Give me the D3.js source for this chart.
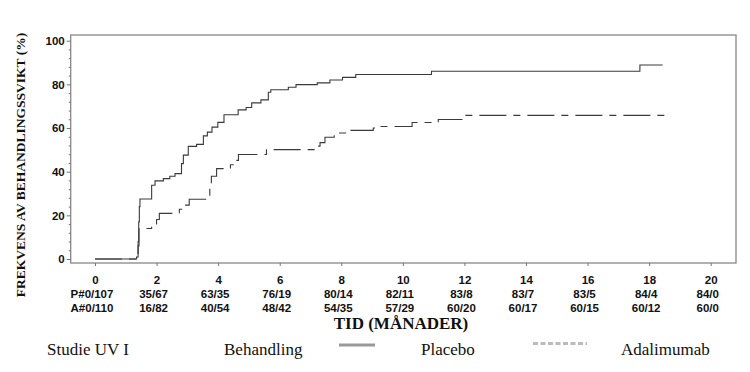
<!DOCTYPE html>
<html>
<head>
<meta charset="utf-8">
<script src="https://cdn.jsdelivr.net/npm/d3@7"></script>
<style>
  body { margin: 0; background: #fff; }
  svg { display: block; }
  .tick text { font-family: "Liberation Sans", Arial, sans-serif; font-weight: bold; font-size: 11.5px; fill: #111; }
  .tick line { stroke: #777; }
  .risk { font-family: "Liberation Sans", Arial, sans-serif; font-weight: bold; font-size: 11.5px; fill: #111; }
  .serif { font-family: "Liberation Serif", "Times New Roman", serif; fill: #111; }
</style>
</head>
<body>
<svg width="750" height="372"></svg>
<script>
// Placebo: time (months) and cumulative incidence (%)
const placeboTime  = [0, 1.35, 1.40, 1.42, 1.44, 1.46, 1.84, 1.95, 2.22, 2.43, 2.60, 2.81, 2.87, 3.03, 3.30, 3.52, 3.65, 3.80, 3.99, 4.19, 4.65, 4.91, 5.09, 5.39, 5.63, 5.71, 6.28, 6.53, 7.22, 7.63, 8.04, 8.47, 10.93, 17.70, 18.44];
const placeboValue = [0, 0.9, 8, 17, 24, 27.5, 33.8, 35.8, 36.8, 37.9, 39.1, 43.7, 47.6, 51.6, 52.5, 56.4, 58.1, 60.4, 62.6, 66.1, 68.3, 69.4, 71.5, 72.9, 76.4, 77.5, 78.7, 79.9, 80.7, 82.0, 83.2, 84.5, 86.0, 88.9, 88.9];

// Adalimumab
const adaTime  = [0, 1.40, 1.43, 1.84, 2.00, 2.09, 2.74, 2.87, 3.06, 3.73, 3.78, 3.95, 4.40, 4.52, 4.66, 5.57, 7.22, 7.31, 7.47, 7.77, 8.14, 9.04, 9.25, 10.30, 11.15, 12.03, 18.70];
const adaValue = [0, 6, 14.0, 15.5, 18.1, 20.9, 22.8, 24.7, 27.4, 33.8, 37.9, 41.4, 43.2, 45.2, 47.9, 50.1, 51.7, 53.3, 55.8, 57.7, 58.9, 60.0, 60.7, 62.5, 63.9, 65.8, 65.8];

const xTicks = [0, 2, 4, 6, 8, 10, 12, 14, 16, 18, 20];
const yTicks = [0, 20, 40, 60, 80, 100];
const riskPlacebo = ["P#0/107", "35/67", "63/35", "76/19", "80/14", "82/11", "83/8", "83/7", "83/5", "84/4", "84/0"];
const riskAda     = ["A#0/110", "16/82", "40/54", "48/42", "54/35", "57/29", "60/20", "60/17", "60/15", "60/12", "60/0"];

const svg = d3.select("svg");
svg.append("rect").attr("width", 750).attr("height", 372).attr("fill", "#fff");

const x = d3.scaleLinear().domain([0, 20]).range([95, 710.7]);
const y = d3.scaleLinear().domain([0, 100]).range([259, 40.7]);
const frame = {left: 70.7, right: 736, top: 35, bottom: 263};

// frame
svg.append("rect")
    .attr("x", frame.left).attr("y", frame.top)
    .attr("width", frame.right - frame.left).attr("height", frame.bottom - frame.top)
    .attr("fill", "none").attr("stroke", "#888").attr("stroke-width", 1.3);

// y axis, major + minor ticks
const yAxis = svg.append("g").attr("transform", `translate(${frame.left},0)`)
    .call(d3.axisLeft(y).tickValues(yTicks).tickSize(4).tickPadding(2));
yAxis.select(".domain").remove();

const minor = d3.range(0, 101, 4).filter(v => v % 20 !== 0);
const yMinor = svg.append("g").attr("transform", `translate(${frame.left},0)`)
    .call(d3.axisLeft(y).tickValues(minor).tickSize(2).tickFormat(""));
yMinor.select(".domain").remove();

// x axis
const xAxis = svg.append("g").attr("transform", `translate(0,${frame.bottom})`)
    .call(d3.axisBottom(x).tickValues(xTicks).tickSize(3).tickPadding(10));
xAxis.select(".domain").remove();

// risk table
svg.selectAll(".riskP").data(riskPlacebo).enter().append("text")
    .attr("class", "risk").attr("text-anchor", "middle")
    .attr("x", (d, i) => x(xTicks[i]) - 3).attr("y", 297.5)
    .text(d => d);
svg.selectAll(".riskA").data(riskAda).enter().append("text")
    .attr("class", "risk").attr("text-anchor", "middle")
    .attr("x", (d, i) => x(xTicks[i]) - 3).attr("y", 312)
    .text(d => d);

// curves
const line = d3.line().curve(d3.curveStepAfter).x(d => x(d[0])).y(d => y(d[1]));

svg.append("path")
    .datum(placeboTime.map((t, i) => [t, placeboValue[i]]))
    .attr("d", line)
    .attr("fill", "none").attr("stroke", "#3a3a3a").attr("stroke-width", 1.1);

svg.append("path")
    .datum(adaTime.map((t, i) => [t, adaValue[i]]))
    .attr("d", line)
    .attr("fill", "none").attr("stroke", "#3a3a3a").attr("stroke-width", 1.1)
    .attr("stroke-dasharray", "27,7,7,7");

// axis titles
svg.append("text").attr("class", "serif")
    .attr("transform", "translate(25,165) rotate(-90)")
    .attr("text-anchor", "middle")
    .attr("font-weight", "bold").attr("font-size", 13.5)
    .text("FREKVENS AV BEHANDLINGSSVIKT (%)");

svg.append("text").attr("class", "serif")
    .attr("x", 401).attr("y", 329)
    .attr("text-anchor", "middle")
    .attr("font-weight", "bold").attr("font-size", 17)
    .text("TID (MÅNADER)");

// legend
const legY = 355;
svg.append("text").attr("class", "serif").attr("x", 47).attr("y", legY).attr("font-size", 17).text("Studie UV I");
svg.append("text").attr("class", "serif").attr("x", 224).attr("y", legY).attr("font-size", 17).text("Behandling");
svg.append("line").attr("x1", 339).attr("x2", 375).attr("y1", 345).attr("y2", 345)
    .attr("stroke", "#999").attr("stroke-width", 3);
svg.append("text").attr("class", "serif").attr("x", 421).attr("y", legY).attr("font-size", 17).text("Placebo");
svg.append("line").attr("x1", 533).attr("x2", 587).attr("y1", 343.5).attr("y2", 343.5)
    .attr("stroke", "#bbb").attr("stroke-width", 3).attr("stroke-dasharray", "5,2.5");
svg.append("text").attr("class", "serif").attr("x", 621).attr("y", legY).attr("font-size", 17).text("Adalimumab");
</script>
</body>
</html>
